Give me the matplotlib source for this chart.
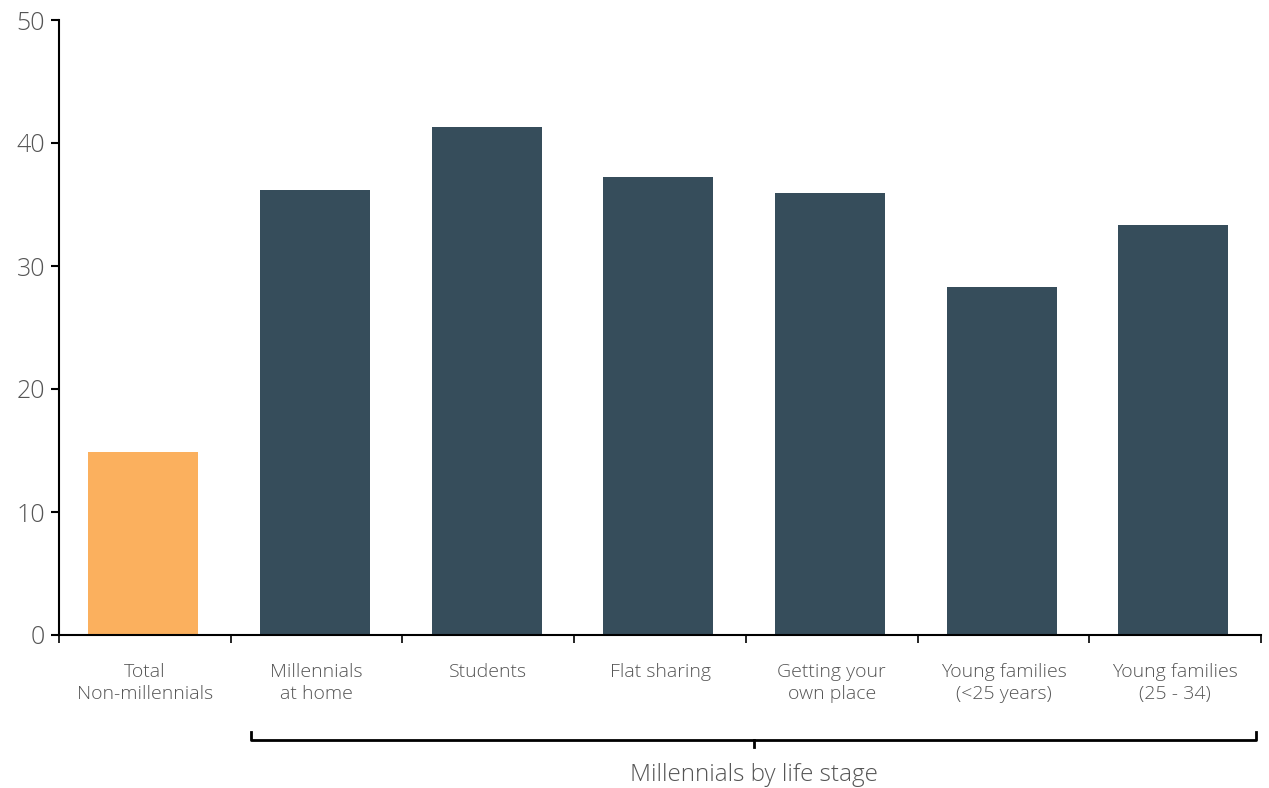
import matplotlib
matplotlib.use('Agg')
import matplotlib.pyplot as plt
import numpy as np

categories = ["Total\nNon-millennials", "Millennials\nat home", "Students", "Flat sharing",
              "Getting your\nown place", "Young families\n(<25 years)", "Young families\n(25 - 34)"]
values = [14.9, 36.2, 41.3, 37.2, 35.9, 28.3, 33.3]
colors = ["#FBB05E"] + ["#364D5B"] * 6
y_ticks = [0, 10, 20, 30, 40, 50]
group_label = "Millennials by life stage"

plt.rcParams['font.family'] = ['Open Sans', 'DejaVu Sans']
plt.rcParams['font.weight'] = 'light'
text_color = "#555555"

fig = plt.figure(figsize=(12.69, 7.88), dpi=100)
ax = fig.add_axes([59 / 1269, 1 - 635 / 788, 1202 / 1269, 615 / 788])

x = np.arange(len(categories))
ax.bar(x - 0.01, values, width=0.64, color=colors, zorder=2)

ax.set_xlim(-0.5, len(categories) - 0.5)
ax.set_ylim(0, 50)
ax.set_yticks(y_ticks)
ax.set_yticklabels([str(t) for t in y_ticks], fontsize=18, color=text_color, fontweight='light')
ax.tick_params(axis='y', length=6, width=1.5, pad=4, color='black')

# boundary ticks on x axis, labels at bar centres
ax.set_xticks(np.arange(-0.5, len(categories)), minor=False)
ax.set_xticklabels([])
ax.set_xticks(x, minor=True)
ax.set_xticklabels(categories, minor=True, fontsize=14, color=text_color,
                   linespacing=1.3, fontweight='light')
ax.tick_params(axis='x', which='major', length=6, width=1.2, direction='out', color='black')
ax.tick_params(axis='x', which='minor', length=0, pad=20)

for side in ['top', 'right']:
    ax.spines[side].set_visible(False)
for side in ['left', 'bottom']:
    ax.spines[side].set_linewidth(1.5)
    ax.spines[side].set_color('black')

# bracket under the millennial groups
trans = ax.get_xaxis_transform()
y_line = -(740 - 635) / 615
y_top = -(732 - 635) / 615
y_mid = -(747 - 635) / 615
x0, x1 = 0.62, 6.47
ax.plot([x0, x0, x1, x1], [y_top, y_line, y_line, y_top], color='black', lw=2,
        transform=trans, clip_on=False)
xm = (x0 + x1) / 2
ax.plot([xm, xm], [y_line, y_mid], color='black', lw=2, transform=trans, clip_on=False)
ax.text(xm, -(775 - 635) / 615, group_label, transform=trans, ha='center', va='center',
        fontsize=17.5, color=text_color, fontweight='light')

fig.savefig("out.png", dpi=100)
